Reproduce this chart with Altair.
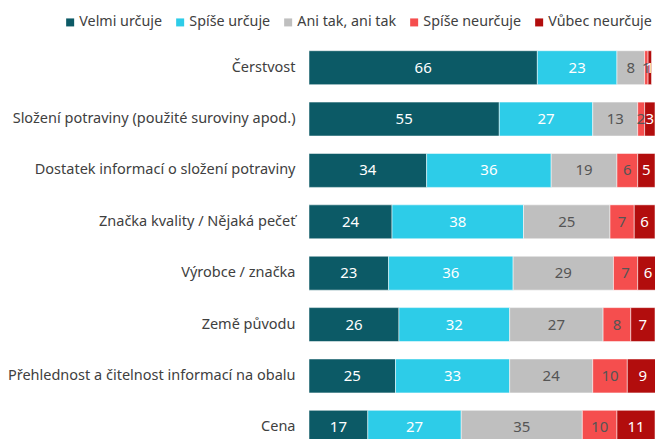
import altair as alt
import pandas as pd

categories = [
    "Čerstvost",
    "Složení potraviny (použité suroviny apod.)",
    "Dostatek informací o složení potraviny",
    "Značka kvality / Nějaká pečeť",
    "Výrobce / značka",
    "Země původu",
    "Přehlednost a čitelnost informací na obalu",
    "Cena",
]
series = ["Velmi určuje", "Spíše určuje", "Ani tak, ani tak", "Spíše neurčuje", "Vůbec neurčuje"]
velmi = [66, 55, 34, 24, 23, 26, 25, 17]
spise = [23, 27, 36, 38, 36, 32, 33, 27]
ani = [8, 13, 19, 25, 29, 27, 24, 35]
spise_ne = [1, 2, 6, 7, 7, 8, 10, 10]
vubec = [1, 3, 5, 6, 6, 7, 9, 11]
colors = ["#0C5A66", "#2DCCE8", "#BFBFBF", "#F54E4E", "#B20D0D"]
text_colors = ["#FFFFFF", "#FFFFFF", "#555555", "#555555", "#FFFFFF"]

values = [velmi, spise, ani, spise_ne, vubec]
rows = []
for si, s in enumerate(series):
    for ci, c in enumerate(categories):
        rows.append({"category": c, "series": s, "value": values[si][ci],
                     "order": si, "tcolor": text_colors[si]})
df = pd.DataFrame(rows)

FONT = "Noto Sans"

base = alt.Chart(df).transform_stack(
    stack="value", groupby=["category"], as_=["x0", "x1"],
    sort=[alt.SortField("order", order="ascending")]
).transform_calculate(mid="(datum.x0 + datum.x1) / 2")

yscale = alt.Scale(paddingInner=0.34, paddingOuter=0.17, range=[0, 411])
xscale = alt.Scale(domain=[0, 100], nice=False)

yenc = alt.Y(
    "category:N", sort=categories, title=None, scale=yscale,
    axis=alt.Axis(domain=False, ticks=False, labelPadding=14, labelFont=FONT,
                  labelFontSize=14.5, labelColor="#404040", labelLimit=300),
)

bars = base.mark_bar(stroke="white", strokeWidth=1, strokeOpacity=0.5, clip=True).encode(
    x=alt.X("x0:Q", scale=xscale, axis=None),
    x2="x1:Q",
    y=yenc,
    color=alt.Color(
        "series:N", sort=series,
        scale=alt.Scale(domain=series, range=colors),
        legend=alt.Legend(
            title=None, orient="none", direction="horizontal",
            legendX=-246, legendY=-27, padding=0,
            symbolType="square", symbolSize=64, symbolStrokeWidth=0,
            labelFont=FONT, labelFontSize=14.3, labelColor="#404040",
            labelOffset=2, columnPadding=10,
        ),
    ),
    order=alt.Order("order:Q"),
)

labels = base.mark_text(font=FONT, fontSize=15, clip=True).encode(
    x=alt.X("mid:Q", scale=xscale),
    y=alt.Y("category:N", sort=categories, scale=yscale),
    text=alt.Text("value:Q"),
    color=alt.Color("tcolor:N", scale=None),
)

chart = alt.layer(bars, labels).properties(
    width=346, height=397,
    padding={"left": 301, "top": 34, "right": 0, "bottom": 0},
    autosize=alt.AutoSizeParams(type="none"),
).configure_view(stroke=None)

chart.save("out.html", embed_options={"renderer": "svg", "actions": False})
